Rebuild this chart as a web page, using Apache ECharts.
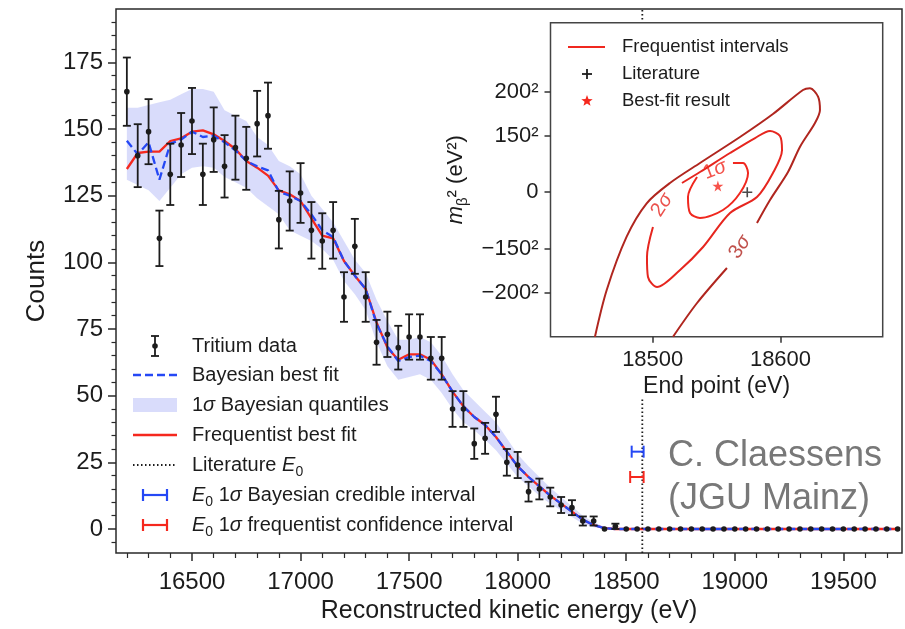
<!DOCTYPE html>
<html>
<head>
<meta charset="utf-8">
<title>Tritium spectrum</title>
<script src="https://cdn.jsdelivr.net/npm/echarts@6/dist/echarts.min.js"></script>
<style>
  html, body { margin: 0; padding: 0; background: #fff; }
  #chart { width: 905px; height: 629px; }
</style>
</head>
<body>
<div id="chart"></div>
<script>
// bin centres (eV)
var energies = [
  16200,16250,16300,16350,16400,16450,16500,16550,16600,16650,
  16700,16750,16800,16850,16900,16950,17000,17050,17100,17150,
  17200,17250,17300,17350,17400,17450,17500,17550,17600,17650,
  17700,17750,17800,17850,17900,17950,18000,18050,18100,18150,
  18200,18250,18300,18350,18400,18450,18500,18550,18600,18650,
  18700,18750,18800,18850,18900,18950,19000,19050,19100,19150,
  19200,19250,19300,19350,19400,19450,19500,19550,19600,19650,
  19700,19750
];
// tritium data counts and their error bars
var counts = [
  164,140,149,109,133,144,153,133,146,136,
  143,139,152,155,116,123,126,112,108,112,
  87,106,87,70,73,68,72,72,64,64,
  45,45,32,34,43,25,24,14,15,12,
  9,8,3,3,0,1,0,0,0,0,
  0,0,0,0,0,0,0,0,0,0,
  0,0,0,0,0,0,0,0,0,0,
  0,0
];
var countErr = [
  12.8,11.8,12.2,10.4,11.5,12,12.4,11.5,12.1,11.7,
  12,11.8,12.3,12.4,10.8,11.1,11.2,10.6,10.4,10.6,
  9.3,10.3,9.3,8.4,8.5,8.2,8.5,8.5,8,8,
  6.7,6.7,5.7,5.8,6.6,5,4.9,3.7,3.9,3.5,
  3,2.8,1.7,1.7,0,1,0,0,0,0,
  0,0,0,0,0,0,0,0,0,0,
  0,0,0,0,0,0,0,0,0,0,
  0,0
];
// fits
var freqFit = [
  135,141,141.5,141.5,145.5,146.5,149,149.5,148,145.5,
  142.5,138,135.5,132.5,127,125.5,123,116.5,110,109,
  100.5,95,90,77.5,68,63.5,65.5,65.5,63.5,58,
  51.5,46,42,39,34.5,29,23.5,19.5,16,12.5,
  9.5,6.5,3.5,1.5,0.3,0,0,0,0,0,
  0,0,0,0,0,0,0,0,0,0,
  0,0,0,0,0,0,0,0,0,0,
  0,0
];
var bayesFit = [
  145.6,140.5,145,131,144.5,146,149,147,147.5,145,
  142,138,136,134.5,126.5,125,123,118,112,109.5,
  100.5,95,90,77,68.5,63,64.5,65,63,58,
  51.5,46,42,39,34.5,29,23.5,19.5,16,12.5,
  9.5,6.5,3.5,1.5,0.3,0,0,0,0,0,
  0,0,0,0,0,0,0,0,0,0,
  0,0,0,0,0,0,0,0,0,0,
  0,0
];
var bandLow = [
  131,129,127,123,128,133,135.5,136,135.5,132,
  130,128,124,121,118,112,110,108,105,101,
  93,88,82,70,61,56,57,58,56,51,
  45,40,37,33.5,29.5,24.5,19.5,16,12.5,9.5,
  7,4.5,2,0.7,0,0,0,0,0,0,
  0,0,0,0,0,0,0,0,0,0,
  0,0,0,0,0,0,0,0,0,0,
  0,0
];
var bandHigh = [
  158,158,159,160,161,163,165,165,164,157,
  155,153,147,144,138,136,133,125,120,115,
  108,101,96,86,78,71,71,72,70,65,
  58,52,48,44,40,34,28,23.5,19.5,15.5,
  12,8.5,5,2.5,0.8,0,0,0,0,0,
  0,0,0,0,0,0,0,0,0,0,
  0,0,0,0,0,0,0,0,0,0,
  0,0
];
var literatureE0 = 18574;
// E0 1 sigma intervals [low, high, drawn at count]
var bayesInterval = [18525, 18580, 29];
var freqInterval = [18518, 18580, 19.5];

// axis ticks
var xMajorTicks = [16500, 17000, 17500, 18000, 18500, 19000, 19500];
var yMajorTicks = [0, 25, 50, 75, 100, 125, 150, 175];

// inset: frequentist contours in (E0, m^2)
var contour1 = [[18562.8,11658],[18570.7,11658],[18574.6,7671],[18568.3,-303],[18555,-7082],
  [18537,-10271],[18529.2,-8278],[18527.6,-1898],[18534.7,6076]];
var contour2 = [[18500.2,-13860],[18495.5,-25822],[18496.3,-33796],[18503.4,-37783],[18521.4,-31005],
  [18539.4,-21834],[18560.5,-8278],[18581.6,-1898],[18594.1,7671],[18601.2,16842],[18599.6,22424],
  [18591.8,24418],[18580.1,21626],[18560.5,15646],[18537,8070],[18522.9,3684]];
var contour3a = [[18454.8,-57600],[18464,-38980],[18479.6,-17728],[18495.3,-4410],[18513.5,3684],
  [18537,11658],[18568.3,22025],[18594.1,31196],[18617.6,40765],[18623.1,41443],[18629.4,38094],
  [18630.9,32791],[18627,27607],[18615.3,18158],[18605.9,8070],[18591.8,-3094],[18581.6,-12265]];
var contour3b = [[18558.1,-30208],[18534.7,-44163],[18515.9,-57600]];
var sigmaLabels = ['1', '2', '3'];
var sigmaLabelPos = [[18548.7, 8867], [18507.3, -5088], [18568.3, -21834]];
var sigmaLabelRot = [21, 57, 56];
var bestFit = [18551, 2500];
var literaturePoint = [18574, 0];
var insetXTicks = [18500, 18600];
var insetYTicks = [-40000, -22500, 0, 22500, 40000];
var insetYTickLabels = ['\u2212200\u00b2', '\u2212150\u00b2', '0', '150\u00b2', '200\u00b2'];

var FONT = '"Liberation Sans", Arial, Helvetica, sans-serif';
var ink = '#1c1c1c';
var red = '#f5281e';
var blue = '#2548f5';
var bandColor = 'rgba(110,120,240,0.26)';
var sigmaColors = ['#f0281f', '#e6261f', '#b0261f'];

var xMinor = [], yMinor = [];
for (var t = 16200; t <= 19700; t += 100) if (t % 500) xMinor.push(t);
for (var s = -5; s <= 190; s += 5) if (s % 25) yMinor.push(s);

var chart = echarts.init(document.getElementById('chart'));

function pairs(ys) {
  return energies.map(function (e, i) { return [e, ys[i]]; });
}
function plain(v) { return String(v); }

function renderBand(params, api) {
  if (params.dataIndex !== 0) return null;
  var pts = [];
  for (var i = 0; i < energies.length; i++) pts.push(api.coord([energies[i], bandHigh[i]]));
  for (var j = energies.length - 1; j >= 0; j--) pts.push(api.coord([energies[j], bandLow[j]]));
  return { type: 'polygon', shape: { points: pts }, style: { fill: bandColor } };
}

function renderErrorBar(params, api) {
  var x = api.value(0), y = api.value(1), e = api.value(2);
  var c = api.coord([x, y]);
  var kids = [];
  if (e > 0) {
    var hi = api.coord([x, y + e]), lo = api.coord([x, y - e]);
    var st = { stroke: ink, lineWidth: 1.8 };
    kids.push({ type: 'line', shape: { x1: c[0], y1: hi[1], x2: c[0], y2: lo[1] }, style: st });
    kids.push({ type: 'line', shape: { x1: c[0] - 4, y1: hi[1], x2: c[0] + 4, y2: hi[1] }, style: st });
    kids.push({ type: 'line', shape: { x1: c[0] - 4, y1: lo[1], x2: c[0] + 4, y2: lo[1] }, style: st });
  }
  kids.push({ type: 'circle', shape: { cx: c[0], cy: c[1], r: 2.8 }, style: { fill: ink } });
  return { type: 'group', children: kids };
}

function renderInterval(color) {
  return function (params, api) {
    var a = api.coord([api.value(0), api.value(2)]);
    var b = api.coord([api.value(1), api.value(2)]);
    var st = { stroke: color, lineWidth: 2 };
    return { type: 'group', children: [
      { type: 'line', shape: { x1: a[0], y1: a[1], x2: b[0], y2: b[1] }, style: st },
      { type: 'line', shape: { x1: a[0], y1: a[1] - 6, x2: a[0], y2: a[1] + 6 }, style: st },
      { type: 'line', shape: { x1: b[0], y1: b[1] - 6, x2: b[0], y2: b[1] + 6 }, style: st }
    ] };
  };
}

var starPath = 'path://M50,0 L61,35 L98,35 L68,57 L79,91 L50,70 L21,91 L32,57 L2,35 L39,35 Z';
var plusPath = 'path://M42,0 H58 V42 H100 V58 H58 V100 H42 V58 H0 V42 H42 Z';

// star outline for the inset legend marker
function starPoints(cx, cy, r) {
  var pts = [];
  for (var k = 0; k < 10; k++) {
    var rr = k % 2 ? r * 0.42 : r;
    var a = -Math.PI / 2 + k * Math.PI / 5;
    pts.push([cx + rr * Math.cos(a), cy + rr * Math.sin(a)]);
  }
  return pts;
}

// rich styles for italic / subscript pieces
function richSet(size, color) {
  return {
    it: { fontStyle: 'italic', fontSize: size, fontFamily: FONT, fill: color, color: color, lineHeight: size + 8 },
    sub: { fontSize: Math.round(size * 0.68), fontFamily: FONT, fill: color, color: color, verticalAlign: 'bottom', lineHeight: Math.round(size * 0.68) },
    n: { fontSize: size, fontFamily: FONT, fill: color, color: color, lineHeight: size + 8 }
  };
}

// main legend drawn as graphic elements
var lgX0 = 133, lgX1 = 177, lgTx = 192;
var lgY = [346, 375, 405, 435, 465, 495, 525];
var lgTexts = [
  '{n|Tritium data}',
  '{n|Bayesian best fit}',
  '{n|1}{it|\u03c3}{n| Bayesian quantiles}',
  '{n|Frequentist best fit}',
  '{n|Literature }{it|E}{sub|0}',
  '{it|E}{sub|0}{n| 1}{it|\u03c3}{n| Bayesian credible interval}',
  '{it|E}{sub|0}{n| 1}{it|\u03c3}{n| frequentist confidence interval}'
];
var graphics = [];
lgTexts.forEach(function (tx, i) {
  graphics.push({ type: 'text', x: lgTx, y: lgY[i], z: 50,
    style: { text: tx, rich: richSet(20, ink), fill: ink, fontSize: 20, fontFamily: FONT, verticalAlign: 'middle' } });
});
var ic = (lgX0 + lgX1) / 2;
graphics.push(
  { type: 'line', z: 50, shape: { x1: ic, y1: lgY[0] - 10, x2: ic, y2: lgY[0] + 10 }, style: { stroke: ink, lineWidth: 1.8 } },
  { type: 'line', z: 50, shape: { x1: ic - 4, y1: lgY[0] - 10, x2: ic + 4, y2: lgY[0] - 10 }, style: { stroke: ink, lineWidth: 1.8 } },
  { type: 'line', z: 50, shape: { x1: ic - 4, y1: lgY[0] + 10, x2: ic + 4, y2: lgY[0] + 10 }, style: { stroke: ink, lineWidth: 1.8 } },
  { type: 'circle', z: 50, shape: { cx: ic, cy: lgY[0], r: 2.8 }, style: { fill: ink } },
  { type: 'line', z: 50, shape: { x1: lgX0, y1: lgY[1], x2: lgX1, y2: lgY[1] }, style: { stroke: blue, lineWidth: 2.4, lineDash: [8, 4] } },
  { type: 'rect', z: 50, shape: { x: lgX0, y: lgY[2] - 7, width: lgX1 - lgX0, height: 14 }, style: { fill: bandColor } },
  { type: 'line', z: 50, shape: { x1: lgX0, y1: lgY[3], x2: lgX1, y2: lgY[3] }, style: { stroke: red, lineWidth: 2.4 } },
  { type: 'line', z: 50, shape: { x1: lgX0, y1: lgY[4], x2: lgX1, y2: lgY[4] }, style: { stroke: ink, lineWidth: 1.8, lineDash: [1.5, 2.5] } }
);
[[lgY[5], blue], [lgY[6], red]].forEach(function (h) {
  var st = { stroke: h[1], lineWidth: 2.2 };
  graphics.push(
    { type: 'line', z: 50, shape: { x1: 143, y1: h[0], x2: 167, y2: h[0] }, style: st },
    { type: 'line', z: 50, shape: { x1: 143, y1: h[0] - 6, x2: 143, y2: h[0] + 6 }, style: st },
    { type: 'line', z: 50, shape: { x1: 167, y1: h[0] - 6, x2: 167, y2: h[0] + 6 }, style: st }
  );
});
// inset legend
var ilX = 587, ilTx = 622, ilY = [47, 74, 101];
graphics.push(
  { type: 'line', z: 50, shape: { x1: 568, y1: ilY[0], x2: 605, y2: ilY[0] }, style: { stroke: sigmaColors[0], lineWidth: 2.2 } },
  { type: 'rect', z: 50, shape: { x: ilX - 5, y: ilY[1] - 0.9, width: 10, height: 1.8 }, style: { fill: ink } },
  { type: 'rect', z: 50, shape: { x: ilX - 0.9, y: ilY[1] - 5, width: 1.8, height: 10 }, style: { fill: ink } },
  { type: 'polygon', z: 50, shape: { points: starPoints(ilX, ilY[2], 6) }, style: { fill: red } },
  { type: 'text', z: 50, x: ilTx, y: ilY[0], style: { text: 'Frequentist intervals', fill: ink, fontSize: 18.5, fontFamily: FONT, verticalAlign: 'middle' } },
  { type: 'text', z: 50, x: ilTx, y: ilY[1], style: { text: 'Literature', fill: ink, fontSize: 18.5, fontFamily: FONT, verticalAlign: 'middle' } },
  { type: 'text', z: 50, x: ilTx, y: ilY[2], style: { text: 'Best-fit result', fill: ink, fontSize: 18.5, fontFamily: FONT, verticalAlign: 'middle' } }
);
// credit
graphics.push(
  { type: 'text', z: 50, x: 668, y: 456, style: { text: 'C. Claessens', fill: '#787878', fontSize: 36, fontFamily: FONT, verticalAlign: 'middle' } },
  { type: 'text', z: 50, x: 668, y: 499, style: { text: '(JGU Mainz)', fill: '#787878', fontSize: 36, fontFamily: FONT, verticalAlign: 'middle' } }
);

var axisFont = { fontFamily: FONT, color: ink };
var noLine = { show: false, onZero: false };

var option = {
  animation: false,
  backgroundColor: '#fff',
  textStyle: { fontFamily: FONT },
  grid: [
    { left: 116, top: 9, width: 786, height: 544, show: true, borderColor: '#2a2a2a', borderWidth: 1.5,
      outerBoundsMode: 'none', containLabel: false },
    { left: 550.5, top: 22.7, width: 332.2, height: 314, show: true, backgroundColor: '#fff',
      borderColor: '#444', borderWidth: 1.5, z: 10, outerBoundsMode: 'none', containLabel: false }
  ],
  xAxis: [
    { gridIndex: 0, type: 'value', min: 16150, max: 19770, position: 'bottom',
      axisLine: noLine, splitLine: { show: false },
      axisTick: { show: true, customValues: xMajorTicks, length: 8, lineStyle: { color: '#2a2a2a', width: 1.5 } },
      axisLabel: Object.assign({ customValues: xMajorTicks, fontSize: 24, margin: 17, formatter: plain }, axisFont),
      name: 'Reconstructed kinetic energy (eV)', nameLocation: 'middle', nameGap: 45,
      nameTextStyle: Object.assign({ fontSize: 25 }, axisFont) },
    { gridIndex: 0, type: 'value', min: 16150, max: 19770, position: 'bottom',
      axisLine: noLine, splitLine: { show: false }, axisLabel: { show: false },
      axisTick: { show: true, customValues: xMinor, length: 5, lineStyle: { color: '#2a2a2a', width: 1.2 } } },
    { gridIndex: 1, type: 'value', min: 18420, max: 18680, position: 'bottom', z: 11,
      axisLine: noLine, splitLine: { show: false },
      axisTick: { show: true, customValues: insetXTicks, length: 6, lineStyle: { color: '#333', width: 1.5 } },
      axisLabel: Object.assign({ customValues: insetXTicks, fontSize: 22, margin: 12, formatter: plain }, axisFont),
      name: 'End point (eV)', nameLocation: 'middle', nameGap: 38,
      nameTextStyle: Object.assign({ fontSize: 23 }, axisFont) }
  ],
  yAxis: [
    { gridIndex: 0, type: 'value', min: -9, max: 195, position: 'left',
      axisLine: noLine, splitLine: { show: false },
      axisTick: { show: true, customValues: yMajorTicks, length: 8, lineStyle: { color: '#2a2a2a', width: 1.5 } },
      axisLabel: Object.assign({ customValues: yMajorTicks, fontSize: 24, margin: 13, formatter: plain }, axisFont),
      name: 'Counts', nameLocation: 'middle', nameGap: 66,
      nameTextStyle: Object.assign({ fontSize: 26 }, axisFont) },
    { gridIndex: 0, type: 'value', min: -9, max: 195, position: 'left',
      axisLine: noLine, splitLine: { show: false }, axisLabel: { show: false },
      axisTick: { show: true, customValues: yMinor, length: 4.5, lineStyle: { color: '#2a2a2a', width: 1.2 } } },
    { gridIndex: 1, type: 'value', min: -57600, max: 67600, position: 'left', z: 11,
      axisLine: noLine, splitLine: { show: false },
      axisTick: { show: true, customValues: insetYTicks, length: 6, lineStyle: { color: '#333', width: 1.5 } },
      axisLabel: Object.assign({ customValues: insetYTicks, fontSize: 22, margin: 12,
        formatter: function (v) { var k = insetYTicks.indexOf(v); return k >= 0 ? insetYTickLabels[k] : ''; } }, axisFont),
      name: '{it|m}{sub|\u03b2}{n|\u00b2 (eV\u00b2)}', nameLocation: 'middle', nameGap: 80,
      nameTextStyle: Object.assign({ fontSize: 22, rich: richSet(22, ink) }, axisFont) }
  ],
  graphic: graphics,
  series: [
    { name: '1\u03c3 Bayesian quantiles', type: 'custom', z: 1, xAxisIndex: 0, yAxisIndex: 0,
      renderItem: renderBand, encode: { x: 0, y: [1, 2] },
      data: energies.map(function (e, i) { return [e, bandLow[i], bandHigh[i]]; }) },
    { name: 'Frequentist best fit', type: 'line', z: 2, symbol: 'none',
      lineStyle: { color: red, width: 2.3 }, data: pairs(freqFit) },
    { name: 'Bayesian best fit', type: 'line', z: 3, symbol: 'none',
      lineStyle: { color: blue, width: 2.3, type: [8, 4] }, data: pairs(bayesFit) },
    { name: 'Literature E0', type: 'line', z: 3, symbol: 'none',
      lineStyle: { color: ink, width: 1.8, type: [1.5, 2.5] },
      data: [[literatureE0, -9], [literatureE0, 49.5]] },
    { name: 'Literature E0 top', type: 'line', z: 3, symbol: 'none',
      lineStyle: { color: ink, width: 1.8, type: [1.5, 2.5] },
      data: [[literatureE0, 189.6], [literatureE0, 195]] },
    { name: 'Tritium data', type: 'custom', z: 4, renderItem: renderErrorBar,
      encode: { x: 0, y: 1 },
      data: energies.map(function (e, i) { return [e, counts[i], countErr[i]]; }) },
    { name: 'E0 Bayesian', type: 'custom', z: 4, renderItem: renderInterval(blue),
      encode: { x: [0, 1], y: 2 }, data: [bayesInterval] },
    { name: 'E0 frequentist', type: 'custom', z: 4, renderItem: renderInterval(red),
      encode: { x: [0, 1], y: 2 }, data: [freqInterval] },

    // inset
    { name: '3 sigma a', type: 'line', xAxisIndex: 2, yAxisIndex: 2, z: 12, symbol: 'none', smooth: 0.3,
      lineStyle: { color: sigmaColors[2], width: 2 }, data: contour3a },
    { name: '3 sigma b', type: 'line', xAxisIndex: 2, yAxisIndex: 2, z: 12, symbol: 'none', smooth: 0.3,
      lineStyle: { color: sigmaColors[2], width: 2 }, data: contour3b },
    { name: '2 sigma', type: 'line', xAxisIndex: 2, yAxisIndex: 2, z: 12, symbol: 'none', smooth: 0.3,
      lineStyle: { color: sigmaColors[1], width: 2 }, data: contour2 },
    { name: '1 sigma', type: 'line', xAxisIndex: 2, yAxisIndex: 2, z: 12, symbol: 'none', smooth: 0.3,
      lineStyle: { color: sigmaColors[0], width: 2 }, data: contour1 },
    { name: 'sigma labels', type: 'scatter', xAxisIndex: 2, yAxisIndex: 2, z: 13, symbolSize: 0.1,
      itemStyle: { color: 'rgba(0,0,0,0)' },
      data: sigmaLabelPos.map(function (p, i) {
        var r = richSet(20, sigmaColors[i]);
        return { value: p, label: { show: true, position: 'inside', rotate: sigmaLabelRot[i],
          formatter: '{n|' + sigmaLabels[i] + '}{it|\u03c3}', rich: r } };
      }) },
    { name: 'Literature', type: 'scatter', xAxisIndex: 2, yAxisIndex: 2, z: 13,
      symbol: plusPath, symbolSize: 10, itemStyle: { color: ink }, data: [literaturePoint] },
    { name: 'Best-fit result', type: 'scatter', xAxisIndex: 2, yAxisIndex: 2, z: 13,
      symbol: starPath, symbolSize: 11, itemStyle: { color: red }, data: [bestFit] }
  ]
};

chart.setOption(option);
</script>
</body>
</html>
